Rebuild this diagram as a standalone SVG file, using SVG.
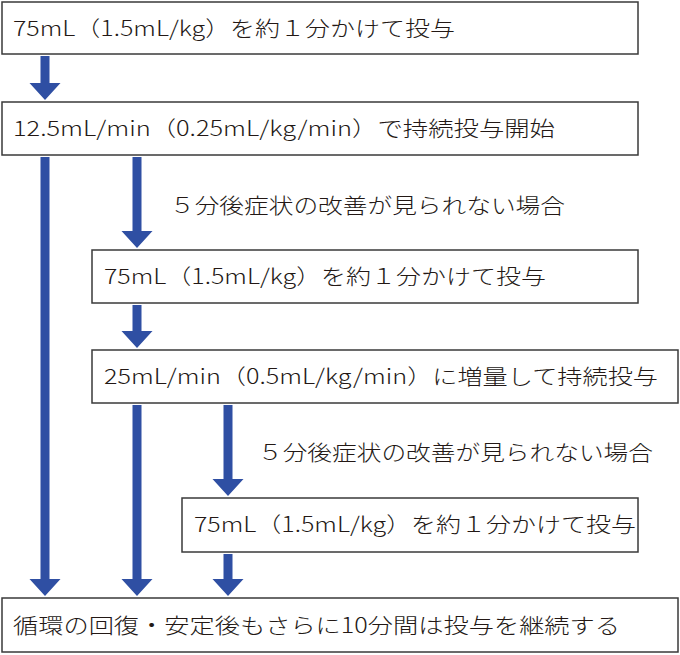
<svg xmlns="http://www.w3.org/2000/svg" width="680" height="655" viewBox="0 0 680 655">
<style>
.b{fill:#fff;stroke:#3a3a3a;stroke-width:1.5}
.t{font-family:"Noto Sans CJK JP","Noto Sans",sans-serif;font-size:21px;fill:#231815;font-weight:300}
.a{fill:#2f4fa3}
</style>
<g id="connectors">
<path class="a" d="M40.5,56h9v27h11l-15.5,17 -15.5,-17h11z"/>
<path class="a" d="M40.5,157h9v422h11l-15.5,17 -15.5,-17h11z"/>
<path class="a" d="M132.5,157h9v74h11l-15.5,17 -15.5,-17h11z"/>
<path class="a" d="M132.5,305h9v26h11l-15.5,17 -15.5,-17h11z"/>
<path class="a" d="M132.5,405h9v174h11l-15.5,17 -15.5,-17h11z"/>
<path class="a" d="M223.5,405h9v74h11l-15.5,17 -15.5,-17h11z"/>
<path class="a" d="M223.5,554h9v25h11l-15.5,17 -15.5,-17h11z"/>
<text class="t" x="170" y="213" textLength="395" lengthAdjust="spacingAndGlyphs">５分後症状の改善が見られない場合</text>
<text class="t" x="258" y="460" textLength="395" lengthAdjust="spacingAndGlyphs">５分後症状の改善が見られない場合</text>
</g>
<g id="n1"><rect class="b" x="2" y="2" width="636" height="52"/><text class="t" x="13" y="36" textLength="442" lengthAdjust="spacingAndGlyphs">75mL（1.5mL/kg）を約１分かけて投与</text></g>
<g id="n2"><rect class="b" x="2" y="102" width="636" height="53"/><text class="t" x="13" y="136" textLength="542" lengthAdjust="spacingAndGlyphs">12.5mL/min（0.25mL/kg/min）で持続投与開始</text></g>
<g id="n3"><rect class="b" x="92" y="250" width="546" height="53"/><text class="t" x="104" y="284" textLength="442" lengthAdjust="spacingAndGlyphs">75mL（1.5mL/kg）を約１分かけて投与</text></g>
<g id="n4"><rect class="b" x="92" y="350" width="586" height="53"/><text class="t" x="104" y="384" textLength="554" lengthAdjust="spacingAndGlyphs">25mL/min（0.5mL/kg/min）に増量して持続投与</text></g>
<g id="n5"><rect class="b" x="182" y="498" width="456" height="54"/><text class="t" x="194" y="532" textLength="442" lengthAdjust="spacingAndGlyphs">75mL（1.5mL/kg）を約１分かけて投与</text></g>
<g id="n6"><rect class="b" x="2" y="598" width="676" height="54"/><text class="t" x="13" y="633" textLength="607" lengthAdjust="spacingAndGlyphs">循環の回復・安定後もさらに10分間は投与を継続する</text></g>
</svg>
